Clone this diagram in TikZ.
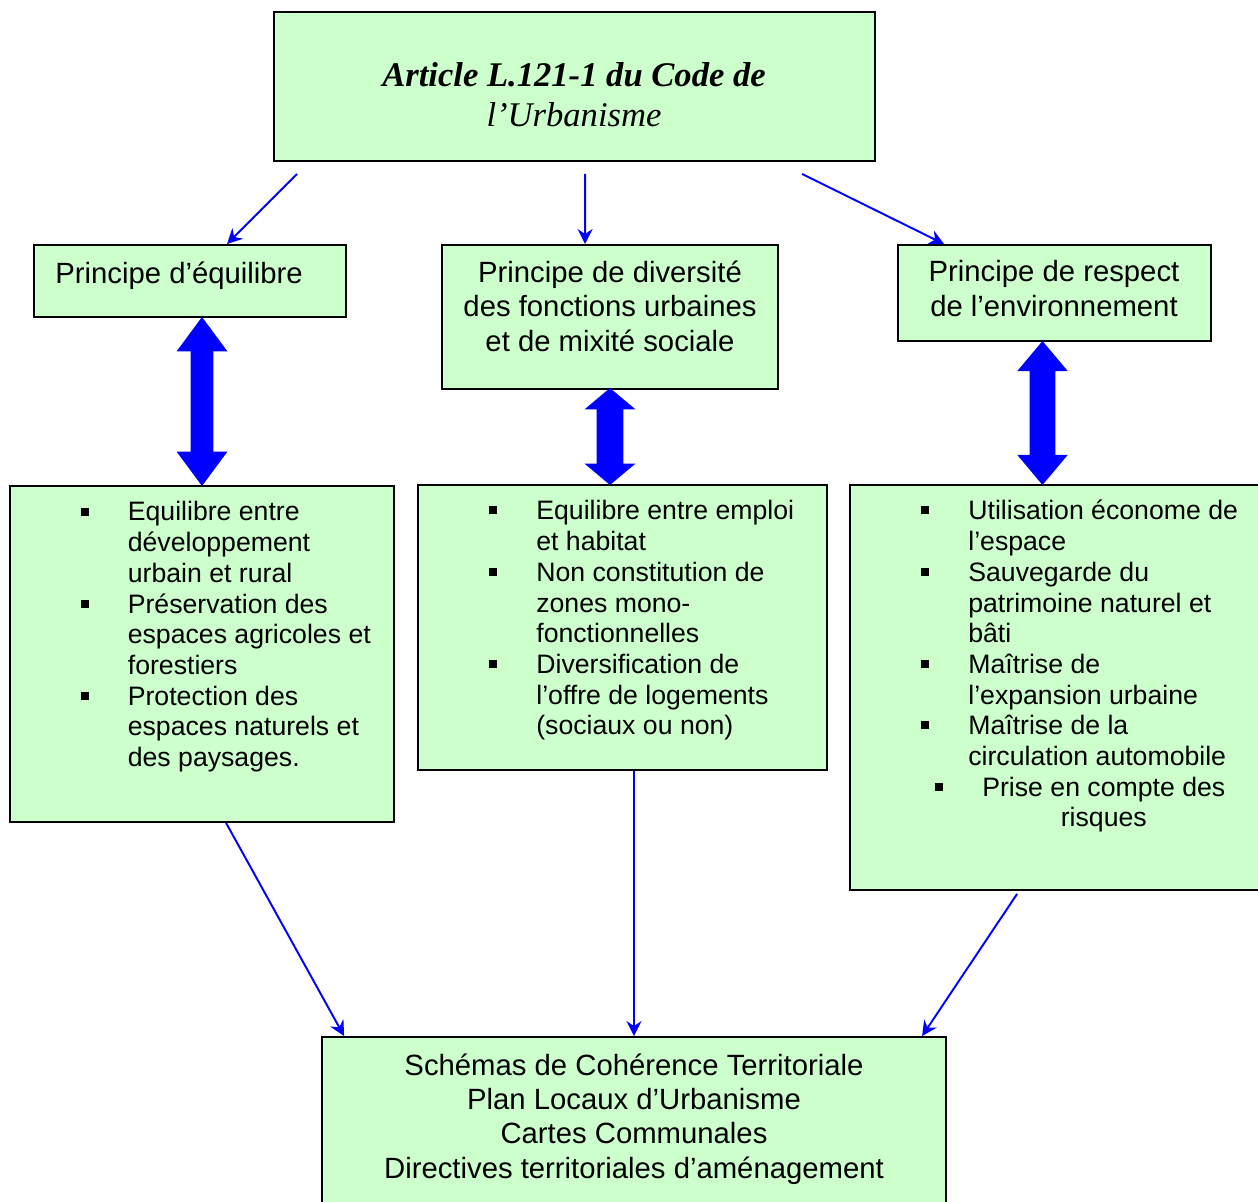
\documentclass[tikz,border=0pt]{standalone}
\usepackage{fontspec}
\setmainfont{Liberation Sans}
\newfontfamily\timesfont{Liberation Serif}
\usetikzlibrary{arrows.meta, shapes.arrows, calc, positioning}
\definecolor{boxgreen}{RGB}{204, 255, 204}
\definecolor{arrowblue}{RGB}{0, 0, 255}
\newcommand{\sqbullet}{\makebox[0.94cm][l]{\raisebox{0.11cm}{\rule{0.16cm}{0.16cm}}}}
\newcommand{\sqbulletshift}{\makebox[0.94cm][l]{\hspace{0.27cm}\raisebox{0.11cm}{\rule{0.16cm}{0.16cm}}}}

\begin{document}
\begin{tikzpicture}[
    x=0.02cm, y=-0.02cm,
    greenbox/.style={
        rectangle, draw=black, fill=boxgreen, line width=1.1pt, inner sep=0pt
    },
    boxtext/.style={inner sep=0pt, font=\fontsize{16.67}{19.63}\selectfont},
    listtext/.style={inner sep=0pt, anchor=base west, font=\fontsize{15.17}{17.47}\selectfont},
    link/.style={
        -{Stealth[length=0.3cm, width=0.3cm, inset=0.1cm]}, line width=1.1pt, color=arrowblue
    },
    bigarrow/.style={
        double arrow, fill=arrowblue, draw=none, inner xsep=0pt, minimum width=1cm, rotate=90
    }
]
\useasboundingbox (0,0) rectangle (1258,1202);

% Boxes
\node[greenbox, minimum width=12.02cm, minimum height=2.98cm] (code) at (574.5,86.5) {};
\node[greenbox, minimum width=6.24cm, minimum height=1.44cm] (eq) at (190,281) {};
\node[greenbox, minimum width=6.72cm, minimum height=2.88cm] (div) at (610,317) {};
\node[greenbox, minimum width=6.26cm, minimum height=1.92cm] (env) at (1054.5,293) {};
\node[greenbox, minimum width=7.68cm, minimum height=6.72cm] (eqlist) at (202,654) {};
\node[greenbox, minimum width=8.18cm, minimum height=5.70cm] (divlist) at (622.5,627.5) {};
\node[greenbox, minimum width=8.18cm, minimum height=8.10cm] (envlist) at (1054.5,687.5) {};
\node[greenbox, minimum width=12.48cm, minimum height=3.60cm] (docs) at (634,1127) {};

% Texts
\node[inner sep=0pt, anchor=base, font=\timesfont\fontsize{19.69}{22.76}\selectfont] (codetxt) at (574,87)
    {\begin{tabular}[t]{@{}c@{}}\textbf{\textit{Article L.121-1 du Code de}}\\\textit{l’Urbanisme}\end{tabular}};
\node[boxtext, anchor=base west] (eqtxt) at (55,284) {Principe d’équilibre};
\node[boxtext, anchor=base] (divtxt) at (610,282.5)
    {\begin{tabular}[t]{@{}c@{}}Principe de diversité\\des fonctions urbaines\\et de mixité sociale\end{tabular}};
\node[boxtext, anchor=base] (envtxt) at (1054,282)
    {\begin{tabular}[t]{@{}c@{}}Principe de respect\\de l’environnement\end{tabular}};
\node[boxtext, anchor=base] (docstxt) at (634,1075)
    {\begin{tabular}[t]{@{}c@{}}Schémas de Cohérence Territoriale\\Plan Locaux d’Urbanisme\\Cartes Communales\\Directives territoriales d’aménagement\end{tabular}};

% Lists
\node[listtext] (eqitems) at (80.5,521) {\begin{tabular}[t]{@{}l@{}l@{}}
    \sqbullet & Equilibre entre\\ & développement\\ & urbain et rural\\
    \sqbullet & Préservation des\\ & espaces agricoles et\\ & forestiers\\
    \sqbullet & Protection des\\ & espaces naturels et\\ & des paysages.
\end{tabular}};
\node[listtext] (divitems) at (489,520) {\begin{tabular}[t]{@{}l@{}l@{}}
    \sqbullet & Equilibre entre emploi\\ & et habitat\\
    \sqbullet & Non constitution de\\ & zones mono-\\ & fonctionnelles\\
    \sqbullet & Diversification de\\ & l’offre de logements\\ & (sociaux ou non)
\end{tabular}};
\node[listtext] (envitems) at (921,520) {\begin{tabular}[t]{@{}l@{}l@{}}
    \sqbullet & Utilisation économe de\\ & l’espace\\
    \sqbullet & Sauvegarde du\\ & patrimoine naturel et\\ & bâti\\
    \sqbullet & Maîtrise de\\ & l’expansion urbaine\\
    \sqbullet & Maîtrise de la\\ & circulation automobile\\
    \sqbulletshift & \makebox[5.42cm][c]{Prise en compte des}\\ & \makebox[5.42cm][c]{risques}
\end{tabular}};

% Double arrows
\node[bigarrow, minimum height=3.38cm, inner ysep=0.22cm, double arrow head extend=0.28cm, double arrow tip angle=73] (eqarrow) at (202,401.5) {};
\node[bigarrow, minimum height=1.94cm, inner ysep=0.26cm, double arrow head extend=0.24cm, double arrow tip angle=100] (divarrow) at (610,436.5) {};
\node[bigarrow, minimum height=2.88cm, inner ysep=0.25cm, double arrow head extend=0.25cm, double arrow tip angle=80] (envarrow) at (1042.5,413) {};

% Connections
\draw[link] ($(code.south west)+(24,12)$) -- ($(eq.north west)+(194,0)$);
\draw[link] ($(code.south west)+(312,12)$) -- ($(div.north west)+(144,0)$);
\draw[link] ($(code.south west)+(529,12)$) -- ($(env.north west)+(47,0)$);
\draw[link] ($(eqlist.south west)+(217,0)$) -- ($(docs.north west)+(23,0)$);
\draw[link] (docs.north |- divlist.south) -- (docs.north);
\draw[link] ($(envlist.south west)+(168,3)$) -- ($(docs.north west)+(601,0)$);

\end{tikzpicture}
\end{document}
